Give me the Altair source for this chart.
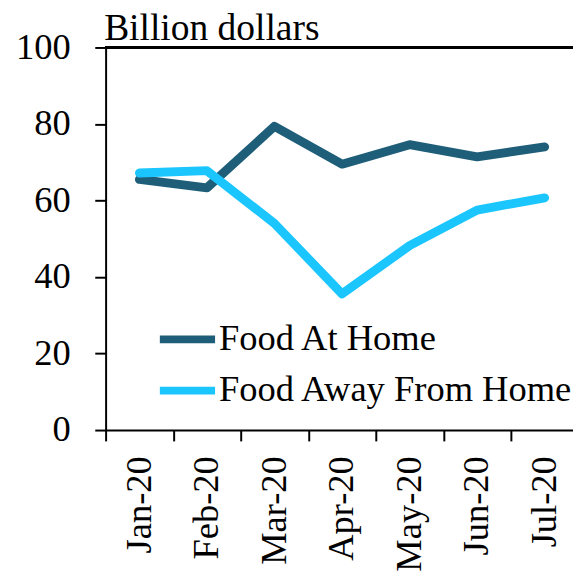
import json
import altair as alt
import pandas as pd

months = ["Jan-20", "Feb-20", "Mar-20", "Apr-20", "May-20", "Jun-20", "Jul-20"]
food_at_home = [65.5, 63.3, 79.4, 69.5, 74.6, 71.4, 74.0]
food_away = [67.2, 67.8, 54.0, 35.6, 48.2, 57.5, 60.7]
series = ["Food At Home", "Food Away From Home"]
colors = ["#1F5E79", "#1BC6FF"]
y_ticks = [0, 20, 40, 60, 80, 100]

rows = []
for i, (m, a, b) in enumerate(zip(months, food_at_home, food_away)):
    rows.append({"idx": i, "month": m, "series": series[0], "value": a})
    rows.append({"idx": i, "month": m, "series": series[1], "value": b})
df = pd.DataFrame(rows)

FONT = "Liberation Serif"
FS = 37
W = 474
STEP = 68.5
boundaries = [i - 0.5 for i in range(len(months))]
label_expr = json.dumps(months) + "[round(datum.value + 0.5)]"

x = alt.X(
    "idx:Q",
    scale=alt.Scale(domain=[-0.5, -0.5 + W / STEP], nice=False, zero=False),
    axis=alt.Axis(
        title=None, values=boundaries, labelExpr=label_expr,
        labelAngle=270, labelAlign="right", labelBaseline="middle",
        labelOffset=STEP / 2, labelFlush=False, labelOverlap=False, labelBound=False,
        labelPadding=15, tickSize=11, tickWidth=2,
        tickColor="black", domainColor="black", domainWidth=2,
        labelFont=FONT, labelFontSize=FS, labelColor="black", grid=False,
    ),
)
y = alt.Y(
    "value:Q",
    scale=alt.Scale(domain=[0, 100], nice=False),
    axis=alt.Axis(
        values=y_ticks, title="Billion dollars", titleAngle=0, titleX=-2, titleY=-8,
        titleAlign="left", titleBaseline="alphabetic", titleFont=FONT,
        titleFontSize=38, titleFontWeight="normal", titleColor="black",
        grid=False, tickSize=11, tickWidth=2, tickColor="black",
        domainColor="black", domainWidth=2, labelPadding=25,
        labelFont=FONT, labelFontSize=FS, labelColor="black",
    ),
)

lines = alt.Chart(df).mark_line(strokeWidth=9, strokeCap="round", strokeJoin="round").encode(
    x=x,
    y=y,
    color=alt.Color(
        "series:N",
        scale=alt.Scale(domain=series, range=colors),
        legend=alt.Legend(
            title=None, orient="none", legendX=51, legendY=272, padding=0,
            symbolType="stroke", symbolSize=3136, symbolStrokeWidth=8,
            labelFont=FONT, labelFontSize=FS, labelColor="black", labelLimit=1000,
            labelOffset=0, clipHeight=48, rowPadding=4,
        ),
    ),
)

top_rule = alt.Chart(df).mark_rule(color="black", strokeWidth=2).encode(y=alt.datum(100))

chart = alt.layer(lines, top_rule).properties(
    width=W,
    height=388,
    autosize=alt.AutoSizeParams(type="none"),
    padding={"left": 99, "top": 36, "right": 0, "bottom": 146},
).configure_view(stroke=None)

chart.save("out.html", embed_options={"renderer": "svg", "actions": False})
